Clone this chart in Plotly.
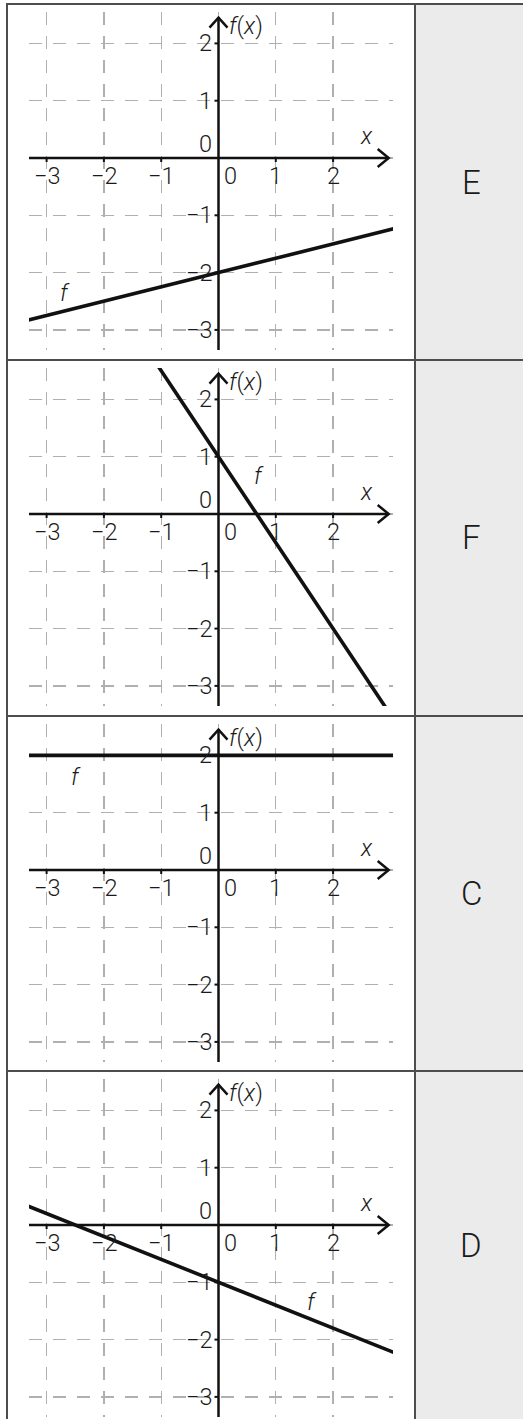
import plotly.graph_objects as go

# ---------------- data ----------------
LETTERS = ["E", "F", "C", "D"]
SLOPES = [0.25, -1.5, 0.0, -0.4]
INTERCEPTS = [-2.0, 1.0, 2.0, -1.0]
F_LABEL_X = [-2.68, 0.70, -2.48, 1.63]
F_LABEL_Y = [-2.36, 0.66, 1.63, -1.34]
X_TICKS = [-3, -2, -1, 1, 2]
X_TICK_TEXT = ["\u22123", "\u22122", "\u22121", "1", "2"]
Y_TICKS = [2, 1, -1, -2, -3]
Y_TICK_TEXT = ["2", "1", "\u22121", "\u22122", "\u22123"]
GRID_X = [-3, -2, -1, 0, 1, 2]
GRID_Y = [-3, -2, -1, 0, 1, 2]

# ---------------- layout constants ----------------
W, H = 523, 1419
ROW_TOPS = [4, 360, 716, 1071]
ROW_BOTTOM_LAST = 1419
UNIT = 57.3
X0_PX = 218.5
Y0_OFF = 154
PLOT_L, PLOT_R = 29, 393
PLOT_T_OFF, PLOT_B_OFF = 8, 346
DIV_X = 415
X_TIP = 2.97
Y_TIP = 2.45

X_RANGE = [(PLOT_L - X0_PX) / UNIT, (PLOT_R - X0_PX) / UNIT]
Y_RANGE = [(Y0_OFF - PLOT_B_OFF) / UNIT, (Y0_OFF - PLOT_T_OFF) / UNIT]

FONT = "Roboto"
TXT = "#1a1a1a"
GRID_COLOR = "#b0b0b0"
BORDER = "#4d4d4d"
CELL_BG = "#ebebeb"
TICK_SIZE = 23.5

fig = go.Figure()
shapes = []
annotations = []
layout_axes = {}


def tfont(size=TICK_SIZE):
    return dict(family=FONT, size=size, color=TXT, weight=300)


for i in range(4):
    n = i + 1
    xa = "x" if n == 1 else f"x{n}"
    ya = "y" if n == 1 else f"y{n}"
    top = ROW_TOPS[i]
    bottom = ROW_TOPS[i + 1] if i < 3 else ROW_BOTTOM_LAST

    layout_axes[f"xaxis{'' if n == 1 else n}"] = dict(
        domain=[PLOT_L / W, PLOT_R / W], range=X_RANGE, anchor=ya,
        tickmode="array", tickvals=GRID_X, showticklabels=False, ticks="",
        showgrid=True, gridcolor=GRID_COLOR, gridwidth=1.4, griddash="13px,11px",
        zeroline=False, showline=False, fixedrange=True,
    )
    layout_axes[f"yaxis{'' if n == 1 else n}"] = dict(
        domain=[1 - (top + PLOT_B_OFF) / H, 1 - (top + PLOT_T_OFF) / H], range=Y_RANGE, anchor=xa,
        tickmode="array", tickvals=GRID_Y, showticklabels=False, ticks="",
        showgrid=True, gridcolor=GRID_COLOR, gridwidth=1.4, griddash="13px,11px",
        zeroline=False, showline=False, fixedrange=True,
    )

    # function line f
    xs = [X_RANGE[0] - 0.5, X_RANGE[1] + 0.5]
    ys = [SLOPES[i] * x + INTERCEPTS[i] for x in xs]
    fig.add_trace(go.Scatter(x=xs, y=ys, mode="lines", xaxis=xa, yaxis=ya,
                             line=dict(color="#111111", width=3.6), showlegend=False,
                             hoverinfo="skip"))

    # coordinate axes
    shapes.append(dict(type="line", xref=xa, yref=ya, x0=X_RANGE[0], x1=X_TIP, y0=0, y1=0,
                       line=dict(color="#111111", width=2.5), layer="above"))
    shapes.append(dict(type="line", xref=xa, yref=ya, x0=0, x1=0, y0=Y_RANGE[0], y1=Y_TIP,
                       line=dict(color="#111111", width=2.5), layer="above"))
    shapes.append(dict(type="path", xref=xa, yref=ya, xsizemode="pixel", ysizemode="pixel",
                       xanchor=X_TIP, yanchor=0, path="M -11,9 L 0,0 L -11,-9",
                       line=dict(color="#111111", width=2.5), layer="above"))
    shapes.append(dict(type="path", xref=xa, yref=ya, xsizemode="pixel", ysizemode="pixel",
                       xanchor=0, yanchor=Y_TIP, path="M -9,-10 L 0,0 L 9,-10",
                       line=dict(color="#111111", width=2.5), layer="above"))
    for t in X_TICKS:
        shapes.append(dict(type="line", xref=xa, yref=ya, ysizemode="pixel", yanchor=0,
                           x0=t, x1=t, y0=0, y1=-4, line=dict(color="#111111", width=2),
                           layer="above"))
    for t in Y_TICKS:
        shapes.append(dict(type="line", xref=xa, yref=ya, xsizemode="pixel", xanchor=0,
                           x0=0, x1=-4, y0=t, y1=t, line=dict(color="#111111", width=2),
                           layer="above"))

    # tick labels
    for t, s in zip(X_TICKS, X_TICK_TEXT):
        annotations.append(dict(x=t, y=0, xref=xa, yref=ya, text=s, showarrow=False,
                                xanchor="center", yanchor="middle", yshift=-18, font=tfont()))
    annotations.append(dict(x=0, y=0, xref=xa, yref=ya, text="0", showarrow=False,
                            xanchor="center", yanchor="middle", xshift=12, yshift=-18,
                            font=tfont()))
    for t, s in zip(Y_TICKS, Y_TICK_TEXT):
        annotations.append(dict(x=0, y=t, xref=xa, yref=ya, text=s, showarrow=False,
                                xanchor="right", yanchor="middle", xshift=-5, font=tfont()))
    annotations.append(dict(x=0, y=0, xref=xa, yref=ya, text="0", showarrow=False,
                            xanchor="right", yanchor="middle", xshift=-5, yshift=14,
                            font=tfont()))
    annotations.append(dict(x=X_TIP, y=0, xref=xa, yref=ya, text="<i>x</i>", showarrow=False,
                            xanchor="center", yanchor="middle", xshift=-22, yshift=22,
                            font=tfont()))
    annotations.append(dict(x=0, y=Y_TIP, xref=xa, yref=ya, text="<i>f</i>(<i>x</i>)",
                            showarrow=False, xanchor="left", yanchor="middle", xshift=8,
                            yshift=-8, font=tfont()))
    annotations.append(dict(x=F_LABEL_X[i], y=F_LABEL_Y[i], xref=xa, yref=ya, text="<i>f</i>",
                            showarrow=False, xanchor="center", yanchor="middle", font=tfont()))

    # gray cell and letter
    shapes.append(dict(type="rect", xref="paper", yref="paper", x0=DIV_X / W, x1=1,
                       y0=1 - bottom / H, y1=1 - top / H, fillcolor=CELL_BG,
                       line=dict(width=0), layer="below"))
    annotations.append(dict(x=(DIV_X + 56) / W, y=1 - (top + bottom) / 2 / H, xref="paper",
                            yref="paper", text=LETTERS[i], showarrow=False,
                            xanchor="center", yanchor="middle", font=tfont(33)))
    shapes.append(dict(type="line", xref="paper", yref="paper", x0=6 / W, x1=1,
                       y0=1 - top / H, y1=1 - top / H,
                       line=dict(color=BORDER, width=2), layer="above"))

for xp in [7, DIV_X]:
    shapes.append(dict(type="line", xref="paper", yref="paper", x0=xp / W, x1=xp / W,
                       y0=0, y1=1 - ROW_TOPS[0] / H,
                       line=dict(color=BORDER, width=2), layer="above"))

fig.update_layout(
    width=W, height=H, margin=dict(l=0, r=0, t=0, b=0),
    paper_bgcolor="white", plot_bgcolor="rgba(0,0,0,0)",
    showlegend=False, shapes=shapes, annotations=annotations,
    **layout_axes,
)

fig.write_html(
    "out.html",
    config={"displayModeBar": False, "staticPlot": True},
    post_script="document.body.style.margin='0';document.body.style.overflow='hidden';"
                "document.documentElement.style.overflow='hidden';",
)
